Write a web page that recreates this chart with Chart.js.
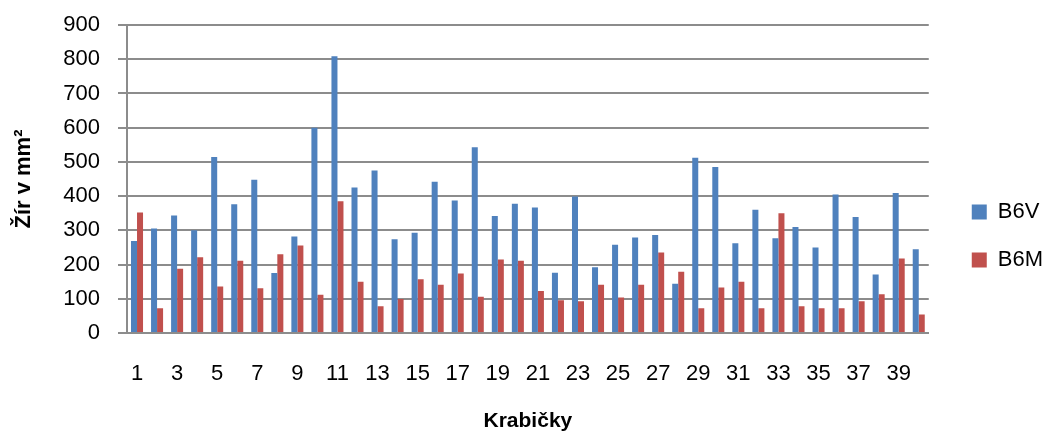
<!DOCTYPE html>
<html>
<head>
<meta charset="utf-8">
<script src="https://cdn.jsdelivr.net/npm/chart.js@4/dist/chart.umd.min.js"></script>
<style>
html,body{margin:0;padding:0;background:#fff}
#wrap{width:1047px;height:441px}
</style>
</head>
<body>
<div id="wrap"><canvas id="mainChart" width="1047" height="441"></canvas></div>
<script>
const krabicky=[]
for(let i=1;i<=40;i++){krabicky.push(String(i))}

const b6v=[269,305,343,300,514,376,448,175,282,600,809,425,475,274,293,442,387,543,342,378,367,176,399,192,258,279,286,144,512,485,262,360,277,310,250,405,339,171,409,245]
const b6m=[352,72,188,221,136,211,131,230,256,112,385,150,78,99,157,141,174,106,215,211,123,96,93,141,104,141,235,179,72,133,150,72,350,78,72,72,93,113,218,54]

const yTicks={min:0,max:900,step:100}

const font="'Liberation Sans', Arial, sans-serif"
const gridColor="#8c8c8c"

const ctx=document.getElementById("mainChart")

new Chart(ctx,{
type:"bar",
data:{
labels:krabicky,
datasets:[
{label:"B6V",data:b6v,backgroundColor:"#4F81BD",categoryPercentage:0.6,barPercentage:1},
{label:"B6M",data:b6m,backgroundColor:"#C0504D",categoryPercentage:0.6,barPercentage:1}
]
},
options:{
responsive:false,
animation:false,
devicePixelRatio:1,
layout:{padding:{top:25,left:0,right:-6,bottom:0}},
plugins:{
tooltip:{enabled:false},
legend:{
position:"right",
title:{display:true,text:" ",font:{size:5},padding:0},
labels:{
boxWidth:15,boxHeight:15,padding:26,color:"#000",
font:{family:font,size:22}
}
}
},
scales:{
x:{
grid:{display:false,drawTicks:false},
border:{display:true,color:gridColor,width:2},
ticks:{
autoSkip:false,maxRotation:0,minRotation:0,padding:28,color:"#000",
font:{family:font,size:22},
callback:function(v,i){return i%2===0?this.getLabelForValue(v):""}
},
title:{display:true,text:"Krabičky",color:"#000",font:{family:font,size:21,weight:"bold"},padding:{top:0,bottom:7}},
afterFit(s){s.height=108}
},
y:{
min:yTicks.min,max:yTicks.max,
grid:{color:gridColor,lineWidth:2,tickLength:9,drawTicks:true},
border:{display:true,color:gridColor,width:2},
ticks:{stepSize:yTicks.step,padding:18,color:"#000",font:{family:font,size:22}},
title:{display:true,text:"Žír v mm²",color:"#000",font:{family:font,size:22,weight:"bold"},padding:{top:11,bottom:25}},
afterFit(s){s.width=127;s.paddingTop=13}
},
gap:{
type:"linear",position:"right",display:true,
grid:{display:false,drawTicks:false},
border:{display:false},
ticks:{display:false},
afterFit(s){s.width=17}
}
}
}
})
</script>
</body>
</html>
